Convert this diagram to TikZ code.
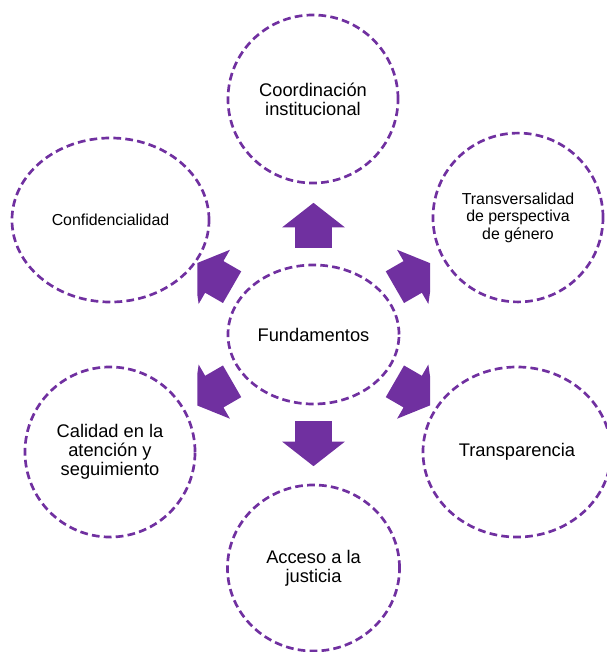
\documentclass[tikz,border=0pt]{standalone}
\usepackage{fontspec}
\setmainfont{Liberation Sans}
\usepackage{tikz}
\usetikzlibrary{shapes,arrows}
\usetikzlibrary{positioning}
\definecolor{morado}{HTML}{7030A0}

\begin{document}
\begin{tikzpicture}[x=0.025cm, y=-0.025cm]

    \tikzstyle{principio}=[draw=morado, shape=ellipse, line width=1.9pt, dash pattern=on 5.5pt off 3pt, inner sep=0pt, align=center, font=\fontsize{13}{13.5}\selectfont];
    \tikzstyle{chico}=[font=\fontsize{11.3}{12.4}\selectfont];
    \tikzstyle{flecha}=[shape=single arrow, fill=morado, inner xsep=0pt, inner ysep=0.45cm, minimum height=1.125cm, minimum width=1.55cm, single arrow head extend=0.325cm, single arrow tip angle=104];

    \useasboundingbox (0,0) rectangle (606,652);

    \node [principio, minimum width=4.275cm, minimum height=3.475cm](fund) at (313.5,334.5){Fundamentos};
    \node [principio, minimum width=4.25cm, minimum height=4.2cm](coord) at (313,99){Coordinación\\institucional};
    \node [principio, chico, minimum width=4.25cm, minimum height=4.22cm](transv) at (518,217.5){Transversalidad\\de perspectiva\\de género};
    \node [principio, minimum width=4.7cm, minimum height=4.25cm](transp) at (517,452){Transparencia};
    \node [principio, minimum width=4.3cm, minimum height=4.15cm](acceso) at (313.5,568){Acceso a la\\justicia};
    \node [principio, minimum width=4.25cm, minimum height=4.25cm](calidad) at (110,452){Calidad en la\\atención y\\seguimiento};
    \node [principio, chico, minimum width=4.925cm, minimum height=4.1cm](confid) at (110.5,220){Confidencialidad};

    % las puntas laterales quedan cortadas
    \begin{scope}
    \clip (197.3,0) rectangle (430,652);
    \node [flecha, rotate=90](fcoord) at (313.5,232.5){};
    \node [flecha, rotate=30](ftransv) at (408.2,279.5){};
    \node [flecha, rotate=-30](ftransp) at (408.2,389){};
    \node [flecha, rotate=-90](facceso) at (313.5,436.5){};
    \node [flecha, rotate=210](fcalidad) at (218.8,389){};
    \node [flecha, rotate=150](fconfid) at (218.8,279.5){};
    \end{scope}

\end{tikzpicture}
\end{document}
